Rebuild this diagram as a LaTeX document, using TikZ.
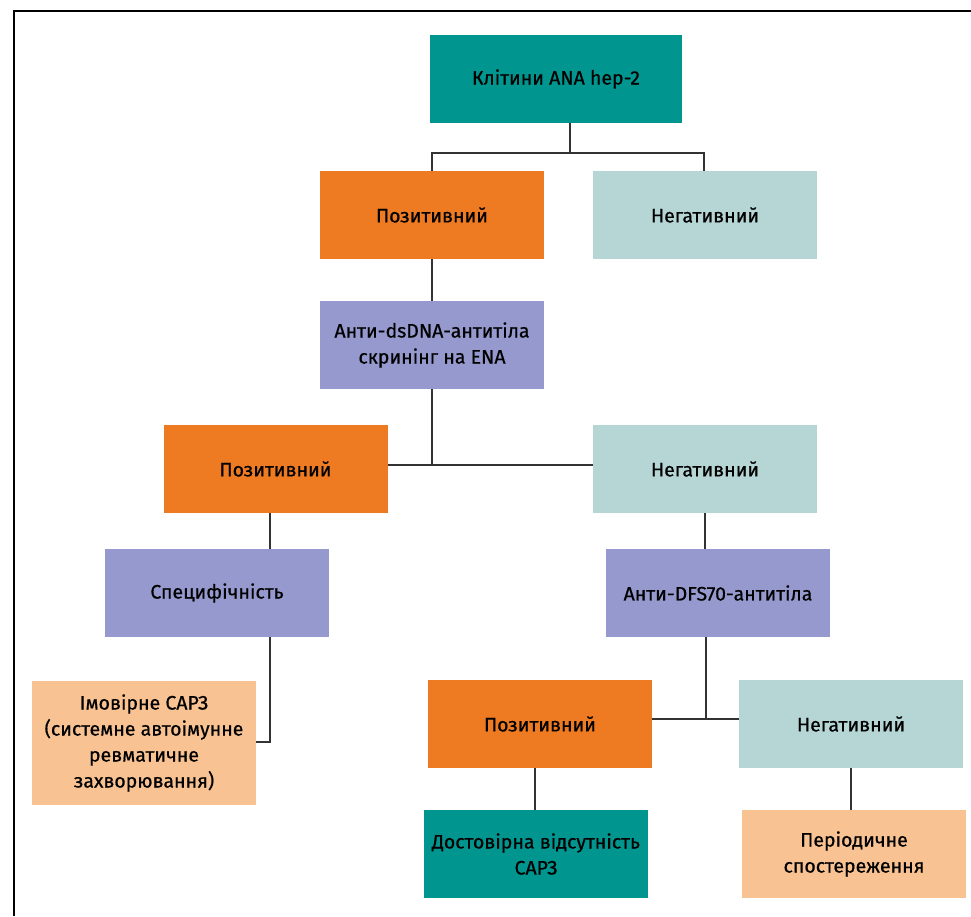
\documentclass[tikz,border=0pt]{standalone}
\usepackage{fontspec}
\setmainfont{Fira Sans}[FakeBold=0.6]
\definecolor{cteal}{HTML}{00968F}
\definecolor{corange}{HTML}{EE7B22}
\definecolor{cltteal}{HTML}{B5D6D5}
\definecolor{cpurple}{HTML}{9599CD}
\definecolor{cpeach}{HTML}{F8C293}
\definecolor{cline}{HTML}{333333}
\begin{document}
\begin{tikzpicture}[x=1pt,y=-1pt,
  box/.style={rectangle, minimum width=224pt, minimum height=88pt, inner sep=0pt,
    align=center, text=black, font=\fontsize{19.5}{26}\selectfont},
  link/.style={draw=cline, line width=1.5pt}]
\useasboundingbox (0,0) rectangle (971,916);
\fill[white] (0,0) rectangle (971,916);
% frame
\draw[black, line width=2pt] (13.5,916) -- (13.5,11) -- (971,11);
% nodes
\node[box, fill=cteal, minimum width=252pt] (A) at (556,79) {Клітини ANA hep-2};
\node[box, fill=corange] (B1) at (432,215) {Позитивний};
\node[box, fill=cltteal] (B2) at (705,215) {Негативний};
\node[box, fill=cpurple] (C) at (432,345) {Анти-dsDNA-антитіла\\скринінг на ENA};
\node[box, fill=corange] (D1) at (275.5,469) {Позитивний};
\node[box, fill=cltteal] (D2) at (705,469) {Негативний};
\node[box, fill=cpurple] (E1) at (217,593) {Специфічність};
\node[box, fill=cpurple] (E2) at (718,593) {Анти-DFS70-антитіла};
\node[box, fill=cpeach, minimum height=124pt] (F1) at (144,743) {Імовірне САРЗ\\(системне автоімунне\\ревматичне\\захворювання)};
\node[box, fill=corange] (G1) at (540,724) {Позитивний};
\node[box, fill=cltteal] (G2) at (851,724) {Негативний};
\node[box, fill=cteal] (H1) at (536,854) {Достовірна відсутність\\САРЗ};
\node[box, fill=cpeach] (H2) at (854,854) {Періодичне\\спостереження};
% junction coordinates
\coordinate (j0) at (570,153);
\coordinate (j0l) at (432,153);
\coordinate (j0r) at (704,153);
\coordinate (j1) at (432,465);
\coordinate (j2) at (270,742);
\coordinate (j3) at (706,719);
% connectors
\draw[link] (j0 |- A.south) -- (j0);
\draw[link] (j0l |- B1.north) -- (j0l) -- (j0r) -- (j0r |- B2.north);
\draw[link] (B1.south) -- (C.north);
\draw[link] (C.south) -- (j1);
\draw[link] (D1.east |- j1) -- (D2.west |- j1);
\draw[link] (j2 |- D1.south) -- (j2 |- E1.north);
\draw[link] (j2 |- E1.south) -- (j2) -- (F1.east |- j2);
\draw[link] (D2.south) -- (D2.south |- E2.north);
\draw[link] (j3 |- E2.south) -- (j3);
\draw[link] (G1.east |- j3) -- (G2.west |- j3);
\draw[link] (535,768) coordinate (g1b) -- (g1b |- H1.north);
\draw[link] (G2.south) -- (G2.south |- H2.north);
\end{tikzpicture}
\end{document}
